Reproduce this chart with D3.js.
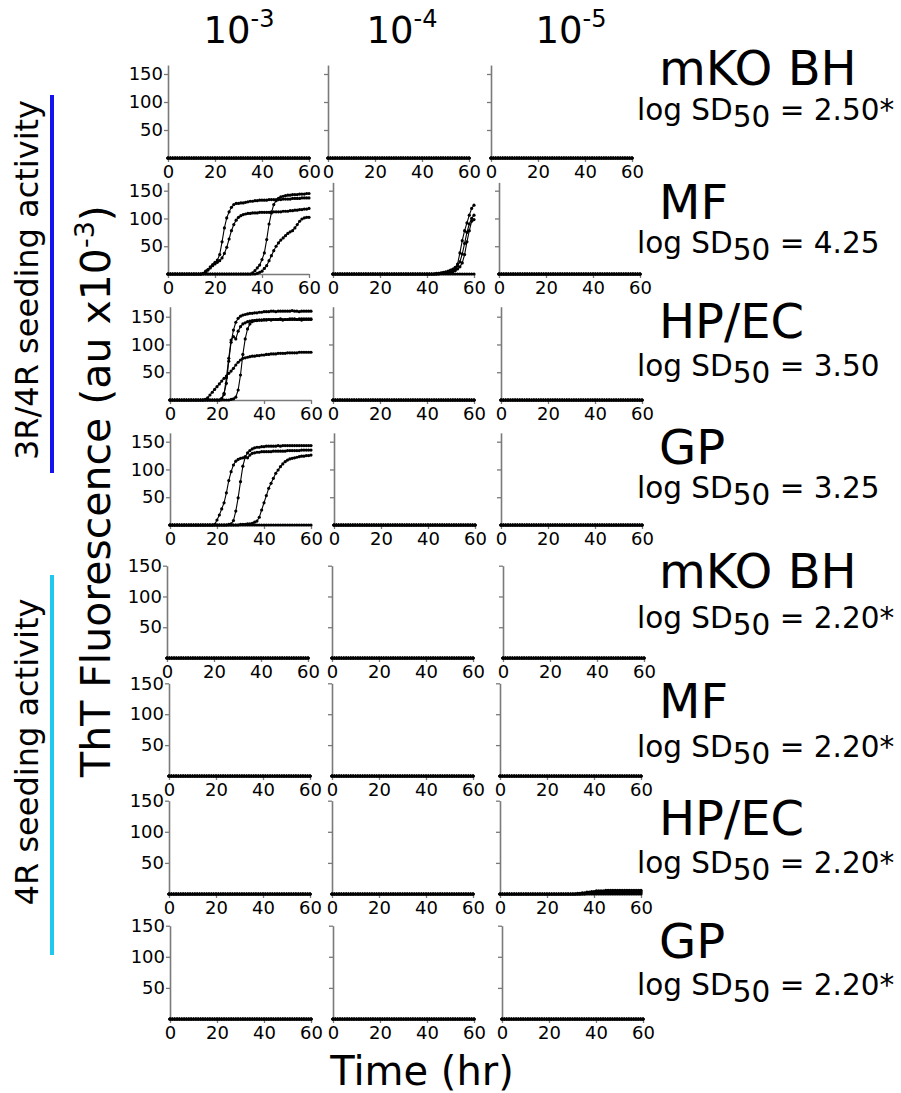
<!DOCTYPE html>
<html><head><meta charset="utf-8">
<script src="https://cdn.jsdelivr.net/npm/d3@7"></script>
<style>
body{margin:0;background:#fff}
svg{display:block}
text{font-family:"DejaVu Sans",Verdana,sans-serif}
</style></head>
<body><svg id="c" width="901" height="1093"></svg>
<script>
// ---------------- DATA ----------------
const TIME = [0,1,2,3,4,5,6,7,8,9,10,11,12,13,14,15,16,17,18,19,20,21,22,23,24,25,26,27,28,29,30,31,32,33,34,35,36,37,38,39,40,41,42,43,44,45,46,47,48,49,50,51,52,53,54,55,56,57,58,59,60];
const X_TICKS = [0,20,40,60];
const Y_TICKS = [50,100,150];
const DILUTIONS = ["-3","-4","-5"];
const SAMPLES = ["mKO BH","MF","HP/EC","GP","mKO BH","MF","HP/EC","GP"];
const LOG_SD50 = ["2.50*","4.25","3.50","3.25","2.20*","2.20*","2.20*","2.20*"];
const GROUP_LABELS = ["3R/4R seeding activity","4R seeding activity"];

const ZERO = [0,0,0,0,0,0,0,0,0,0, 0,0,0,0,0,0,0,0,0,0, 0,0,0,0,0,0,0,0,0,0, 0,0,0,0,0,0,0,0,0,0, 0,0,0,0,0,0,0,0,0,0, 0,0,0,0,0,0,0,0,0,0, 0];

// MF, 10^-3 (3R/4R)
const MF3_A = [0,0,0,0,0,0,0,0,0,0, 0,0,0,0,0,1,5,8,13,17, 21,25,35,58,83,101,112,120,125,127, 127,128,128,129,130,131,131,132,132,133, 133,133,133,134,134,134,134,134,134,135, 135,135,135,136,136,136,136,137,137,137, 137];
const MF3_B = [0,0,0,0,0,0,0,0,0,0, 0,0,0,0,0,1,3,7,11,15, 18,21,24,29,37,48,63,78,89,97, 102,105,107,108,109,109,110,110,110,111, 111,111,111,111,112,112,112,112,112,113, 113,113,114,114,115,115,116,116,117,117, 118];
const MF3_C = [0,0,0,0,0,0,0,0,0,0, 0,0,0,0,0,0,0,0,0,0, 0,0,0,0,0,0,0,0,0,0, 0,0,0,0,0,0,2,6,11,16, 26,38,62,90,110,125,132,136,139,140, 141,142,142,143,143,143,144,144,144,145, 145];
const MF3_D = [0,0,0,0,0,0,0,0,0,0, 0,0,0,0,0,0,0,0,0,0, 0,0,0,0,0,0,0,0,0,0, 0,0,0,0,0,0,0,0,1,3, 5,10,15,24,33,42,50,56,61,65, 69,73,76,78,83,89,95,99,101,102, 102];
// MF, 10^-4 (3R/4R)
const MF4_A = [0,0,0,0,0,0,0,0,0,0, 0,0,0,0,0,0,0,0,0,0, 0,0,0,0,0,0,0,0,0,0, 0,0,0,0,0,0,0,0,0,0, 0,0,0,0,1,1,2,3,4,5, 7,9,12,18,38,60,78,92,106,118, 124];
const MF4_B = [0,0,0,0,0,0,0,0,0,0, 0,0,0,0,0,0,0,0,0,0, 0,0,0,0,0,0,0,0,0,0, 0,0,0,0,0,0,0,0,0,0, 0,0,0,0,0,1,1,2,3,4, 5,7,10,14,22,36,55,75,90,100, 106];
const MF4_C = [0,0,0,0,0,0,0,0,0,0, 0,0,0,0,0,0,0,0,0,0, 0,0,0,0,0,0,0,0,0,0, 0,0,0,0,0,0,0,0,0,0, 0,0,0,0,0,0,1,1,2,2, 3,4,6,9,13,20,35,58,78,95, 98];
// HP/EC, 10^-3 (3R/4R)
const HP3_A = [0,0,0,0,0,0,0,0,0,0, 0,0,0,0,0,0,0,0,0,0, 0,0,3,12,30,70,104,126,140,147, 151,153,154,155,156,156,157,157,158,158, 159,159,159,160,160,159,160,160,160,160, 160,160,161,160,160,159,160,160,160,160, 160];
const HP3_B = [0,0,0,0,0,0,0,0,0,0, 0,0,0,0,0,0,0,0,0,0, 0,0,1,10,40,75,108,114,110,124, 132,137,139,141,142,143,143,144,144,144, 145,145,145,145,145,145,145,146,145,145, 145,146,146,146,145,146,146,146,146,146, 146];
const HP3_C = [0,0,0,0,0,0,0,0,0,0, 0,0,0,0,0,0,0,0,0,0, 0,0,0,0,0,0,1,2,5,18, 45,82,110,128,137,141,143,143,144,144, 144,144,145,144,145,145,145,145,144,145, 145,145,145,145,145,145,144,145,145,145, 145];
const HP3_D = [0,0,0,0,0,0,0,0,0,0, 0,0,0,0,0,1,4,9,14,19, 24,29,34,39,43,48,52,57,63,68, 72,75,76,77,78,79,79,80,80,81, 81,82,82,83,83,83,84,84,84,84, 85,85,85,85,85,86,86,86,86,86, 86];
// GP, 10^-3 (3R/4R)
const GP3_A = [0,0,0,0,0,0,0,0,0,0, 0,0,0,0,0,0,0,0,0,1, 9,18,29,40,58,80,96,108,115,118, 120,121,123,121,126,129,130,131,131,132, 132,132,132,132,133,133,133,133,133,133, 134,134,134,134,134,134,135,135,135,135, 135];
const GP3_B = [0,0,0,0,0,0,0,0,0,0, 0,0,0,0,0,0,0,0,0,0, 0,0,0,0,0,1,2,8,25,49, 78,106,122,130,134,137,139,140,140,141, 141,142,142,142,142,142,143,142,143,143, 143,143,143,143,143,143,143,143,143,143, 143];
const GP3_C = [0,0,0,0,0,0,0,0,0,0, 0,0,0,0,0,0,0,0,0,0, 0,0,0,0,0,0,0,0,0,0, 1,1,1,2,2,3,5,7,14,27, 40,53,66,75,84,93,99,105,110,114, 117,119,120,121,122,123,124,124,125,125, 126];
// HP/EC, 10^-5 (4R)
const HP5R4_A = [0,0,0,0,0,0,0,0,0,0, 0,0,0,0,0,0,0,0,0,0, 0,0,0,0,0,0,0,0,0,0, 0,0,0,1,1,2,2,3,3,4, 4,5,5,5,5,6,6,6,6,6, 6,6,6,6,6,6,6,6,6,6, 6];
const HP5R4_B = [0,0,0,0,0,0,0,0,0,0, 0,0,0,0,0,0,0,0,0,0, 0,0,0,0,0,0,0,0,0,0, 0,0,0,0,0,1,1,2,2,2, 3,3,3,3,4,4,4,4,4,4, 4,4,4,4,4,4,4,4,4,4, 4];
const HP5R4_C = [0,0,0,0,0,0,0,0,0,0, 0,0,0,0,0,0,0,0,0,0, 0,0,0,0,0,0,0,0,0,0, 0,0,0,0,0,0,0,1,1,1, 1,1,2,2,2,2,2,2,2,2, 2,2,2,2,2,2,2,2,2,2, 2];

// replicates per panel: [row][dilution column]
const FLAT4 = [ZERO,ZERO,ZERO,ZERO];
const PANELS = [
  [FLAT4, FLAT4, FLAT4],
  [[MF3_A,MF3_B,MF3_C,MF3_D], [ZERO,MF4_A,MF4_B,MF4_C], FLAT4],
  [[HP3_A,HP3_B,HP3_C,HP3_D], FLAT4, FLAT4],
  [[ZERO,GP3_A,GP3_B,GP3_C], FLAT4, FLAT4],
  [FLAT4, FLAT4, FLAT4],
  [FLAT4, FLAT4, FLAT4],
  [FLAT4, FLAT4, [ZERO,HP5R4_A,HP5R4_B,HP5R4_C]],
  [FLAT4, FLAT4, FLAT4]
];

// ---------------- LAYOUT ----------------
const ROW_BASE = [158,274,400,525,658,776,894,1019];
const ROW_Y150 = [74,190.7,316.7,441.7,565.7,683.3,800.7,925.7];
const ROW_YMAX = [166,165,168,166,150,150,150,150];
const COL_X0 = [[168,328,491],[168,333,499],[170,333,501],[170,334,501],[167,332,503],[169,332,500],[169,332,500],[170,333,502]];
const PW = 141;
const AXIS_COLOR = "#7a7a7a";

const svg = d3.select("#c");
svg.append("rect").attr("width",901).attr("height",1093).attr("fill","#fff");

PANELS.forEach((rowPanels, r) => {
  const base = ROW_BASE[r];
  const k = (base - ROW_Y150[r]) / 150;
  const ymax = ROW_YMAX[r];
  rowPanels.forEach((curves, c) => {
    const x0 = COL_X0[r][c];
    const x = d3.scaleLinear().domain([0,60]).range([x0, x0 + PW]);
    const y = d3.scaleLinear().domain([0,ymax]).range([base, base - k*ymax]);
    const g = svg.append("g");

    const yAx = d3.axisLeft(y).tickValues(Y_TICKS).tickSize(4).tickSizeOuter(0).tickPadding(1);
    if (c > 0) yAx.tickFormat(() => "");
    const ya = g.append("g").attr("transform", `translate(${x0},0)`).call(yAx);
    const xa = g.append("g").attr("transform", `translate(0,${base})`)
      .call(d3.axisBottom(x).tickValues(X_TICKS).tickSize(4).tickSizeOuter(0).tickPadding(3));
    [ya, xa].forEach(a => {
      a.select(".domain").attr("stroke", AXIS_COLOR).attr("stroke-width", 1.6);
      a.selectAll(".tick line").attr("stroke", AXIS_COLOR).attr("stroke-width", 1.3);
      a.selectAll(".tick text").attr("fill", "#000").style("font-size", "18px")
        .style("font-family", "'DejaVu Sans', Verdana, sans-serif");
    });

    const line = d3.line().x((d,i) => x(TIME[i])).y(d => y(d));
    curves.forEach(vals => {
      g.append("path").attr("d", line(vals)).attr("fill","none")
        .attr("stroke","#000").attr("stroke-width",1.1);
      g.selectAll(null).data(vals).enter().append("circle")
        .attr("cx", (d,i) => x(TIME[i])).attr("cy", d => y(d))
        .attr("r", 1.6).attr("fill", "#000");
    });
  });
});

// column headers
const HEAD_X = [239,402,571];
DILUTIONS.forEach((d, i) => {
  const t = svg.append("text").attr("x", HEAD_X[i]).attr("y", 43)
    .attr("text-anchor","middle").style("font-size","37px").attr("fill","#000");
  t.append("tspan").text("10");
  t.append("tspan").text(d).style("font-size","24px").attr("dy", -16);
});

// right-hand sample labels
const NAME_Y = [85,219,338,464,588,718,835,958];
const LOG_Y = [120,253,376,498,628,757,873,995];
SAMPLES.forEach((s, i) => {
  svg.append("text").attr("x", 659).attr("y", NAME_Y[i]).style("font-size","48px").attr("fill","#000").text(s);
  const t = svg.append("text").attr("x", 637).attr("y", LOG_Y[i]).style("font-size","29.5px").attr("fill","#000");
  t.append("tspan").text("log SD");
  t.append("tspan").text("50").attr("dy", 7);
  t.append("tspan").text(" = " + LOG_SD50[i]).attr("dy", -7);
});

// group labels & bars
const GROUP_CY = [280, 752];
const BAR_Y = [[95,473],[575,955]];
const BAR_COLORS = ["#1414f0","#1ec8f0"];
GROUP_LABELS.forEach((lab, i) => {
  svg.append("text").attr("transform", `translate(38,${GROUP_CY[i]}) rotate(-90)`)
    .attr("text-anchor","middle").style("font-size","32px").attr("fill","#000").text(lab);
  svg.append("rect").attr("x", 50).attr("y", BAR_Y[i][0]).attr("width", 4)
    .attr("height", BAR_Y[i][1] - BAR_Y[i][0]).attr("fill", BAR_COLORS[i]);
});

// y axis title
const yt = svg.append("text").attr("transform","translate(110,491) rotate(-90)")
  .attr("text-anchor","middle").style("font-size","41px").attr("fill","#000");
yt.append("tspan").text("ThT Fluorescence (au x10");
yt.append("tspan").text("-3").style("font-size","27px").attr("dy", -16);
yt.append("tspan").text(")").attr("dy", 16);

// x axis title
svg.append("text").attr("x", 422).attr("y", 1085).attr("text-anchor","middle")
  .style("font-size","40px").attr("fill","#000").text("Time (hr)");
</script>
</body></html>
